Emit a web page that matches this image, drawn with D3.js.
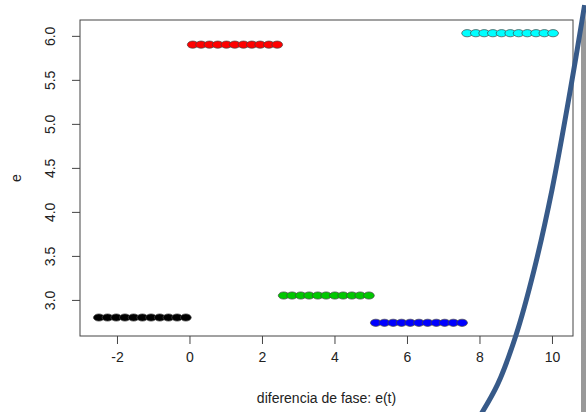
<!DOCTYPE html>
<html>
<head>
<meta charset="utf-8">
<script src="https://cdn.jsdelivr.net/npm/d3@7"></script>
<style>
  body { margin: 0; background: #fff; }
  text { font-family: "Liberation Sans", Arial, sans-serif; fill: #222; }
</style>
</head>
<body>
<svg id="chart" width="586" height="412"></svg>
<script>
// data
const blackX = [-2.5, -2.26, -2.02, -1.78, -1.54, -1.3, -1.06, -0.82, -0.58, -0.34, -0.1];
const redX   = [0.09, 0.32, 0.55, 0.78, 1.02, 1.25, 1.49, 1.72, 1.95, 2.19, 2.42];
const greenX = [2.6, 2.83, 3.07, 3.3, 3.54, 3.77, 4.01, 4.24, 4.48, 4.71, 4.95];
const blueX  = [5.14, 5.38, 5.62, 5.85, 6.09, 6.33, 6.57, 6.81, 7.04, 7.28, 7.52];
const cyanX  = [7.66, 7.9, 8.13, 8.37, 8.61, 8.85, 9.08, 9.32, 9.56, 9.79, 10.03];
const seriesY = [2.8, 5.9, 3.05, 2.74, 6.03];
const seriesColor = ["#000000", "#ff0000", "#00c800", "#0000ff", "#00ffff"];
const curveX = [7.95, 8.5, 9.0, 9.5, 10.0, 10.5, 10.9];
const curveY = [1.64, 2.04, 2.59, 3.33, 4.25, 5.37, 6.35];
const xTicks = [-2, 0, 2, 4, 6, 8, 10];
const yTicks = [3.0, 3.5, 4.0, 4.5, 5.0, 5.5, 6.0];

const svg = d3.select("#chart");
const box = { left: 80, right: 573, top: 20, bottom: 336 };

const x = d3.scaleLinear().domain([-3.02, 10.58]).range([box.left, box.right]);
const y = d3.scaleLinear().domain([2.59, 6.18]).range([box.bottom, box.top]);

// gray bar at the right edge
const defs = svg.append("defs");
const grad = defs.append("linearGradient").attr("id", "barFade").attr("x1", 0).attr("y1", 0).attr("x2", 0).attr("y2", 1);
grad.append("stop").attr("offset", "0").attr("stop-color", "#e6e6e6");
grad.append("stop").attr("offset", "0.03").attr("stop-color", "#9a9a9a");
grad.append("stop").attr("offset", "1").attr("stop-color", "#999");
svg.append("rect").attr("x", 581).attr("y", 10).attr("width", 5).attr("height", 402).attr("fill", "url(#barFade)");

// plot box
svg.append("rect").attr("x", box.left).attr("y", box.top)
    .attr("width", box.right - box.left).attr("height", box.bottom - box.top)
    .attr("fill", "none").attr("stroke", "#444").attr("stroke-width", 1);

// x axis
const xa = svg.append("g").attr("transform", `translate(0,${box.bottom})`)
    .call(d3.axisBottom(x).tickValues(xTicks).tickSize(8).tickPadding(8).tickFormat(d => String(d)));
xa.select(".domain").remove();
xa.selectAll("line").attr("stroke", "#444");
xa.selectAll("text").style("font-size", "14px").attr("fill", "#222");

// y axis, labels rotated like R
const ya = svg.append("g").attr("transform", `translate(${box.left},0)`)
    .call(d3.axisLeft(y).tickValues(yTicks).tickSize(8).tickFormat(d3.format(".1f")));
ya.select(".domain").remove();
ya.selectAll("line").attr("stroke", "#444");
ya.selectAll("text")
    .style("font-size", "14px").attr("fill", "#222")
    .attr("x", null).attr("dy", null)
    .attr("text-anchor", "middle")
    .attr("transform", "translate(-30,0) rotate(-90)")
    .attr("y", 5);

// axis titles
svg.append("text").attr("x", (box.left + box.right) / 2).attr("y", 403)
    .attr("text-anchor", "middle").style("font-size", "14px").text("diferencia de fase: e(t)");
svg.append("text").attr("transform", `translate(21,${(box.top + box.bottom) / 2}) rotate(-90)`)
    .attr("text-anchor", "middle").style("font-size", "14px").text("e");

// point clusters
[blackX, redX, greenX, blueX, cyanX].forEach((xs, i) => {
    svg.append("g").selectAll("ellipse").data(xs).join("ellipse")
        .attr("cx", d => x(d)).attr("cy", y(seriesY[i]))
        .attr("rx", 5.4).attr("ry", 3.6)
        .attr("fill", seriesColor[i]).attr("stroke", "#444").attr("stroke-width", 0.7);
});

// thick curve, drawn past the plot box
const curvePts = curveX.map((d, i) => [d, curveY[i]]);
svg.append("path").datum(curvePts)
    .attr("d", d3.line().x(d => x(d[0])).y(d => y(d[1])).curve(d3.curveCatmullRom))
    .attr("fill", "none").attr("stroke", "#375a89").attr("stroke-width", 5);
</script>
</body>
</html>
